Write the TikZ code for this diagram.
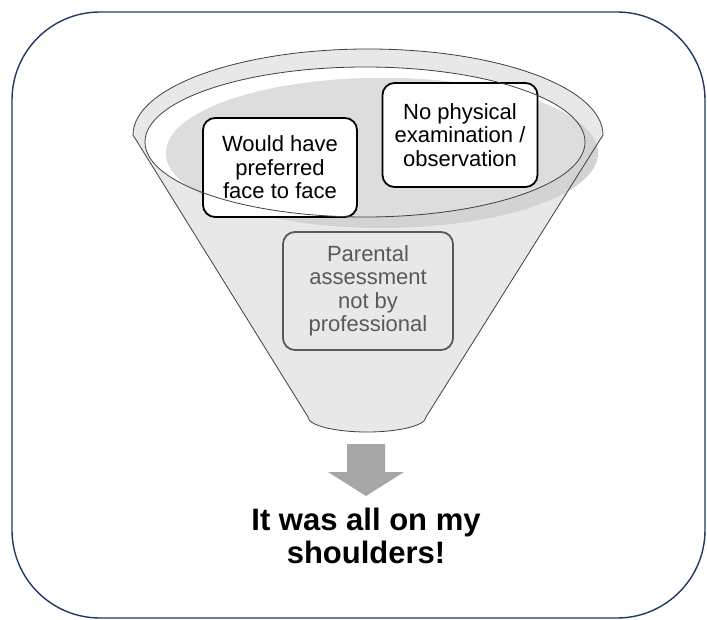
\documentclass[tikz,border=0pt]{standalone}
\usepackage{fontspec}
\setmainfont{Liberation Sans}
\usepackage{xcolor}
\usetikzlibrary{positioning}

\definecolor{framenavy}{HTML}{1F3864}
\definecolor{funnelfill}{HTML}{E8E8E8}
\definecolor{bandgray}{HTML}{D3D3D3}
\definecolor{innergray}{HTML}{DDDDDD}
\definecolor{funnelline}{HTML}{404040}
\definecolor{paragray}{HTML}{595959}
\definecolor{arrowgray}{HTML}{A6A6A6}

\begin{document}
\begin{tikzpicture}[
    x=1pt, y=-1pt,
    card/.style={rectangle, rounded corners=12pt, draw=black, line width=1.8pt, fill=white, align=center, inner sep=0pt, font=\fontsize{22}{23.5}\selectfont},
    ghost/.style={card, draw=paragray, fill=none, text=paragray},
    outline/.style={draw=funnelline, line width=0.8pt},
    shout/.style={align=center, font=\fontsize{31}{33}\selectfont\bfseries}
]
\useasboundingbox (0,0) rectangle (707,620);

% frame
\draw[framenavy, line width=1.4pt, rounded corners=88pt] (12,12) rectangle (705,618);

% funnel body
\fill[funnelfill] (133,135) arc[start angle=180, end angle=0, x radius=235pt, y radius=86pt]
    -- (426,417) arc[start angle=0, end angle=-180, x radius=59pt, y radius=15pt] -- cycle;
\fill[white] (365,142) ellipse[x radius=220pt, y radius=75pt];
\fill[bandgray] (382,153) ellipse[x radius=216pt, y radius=75pt];
\begin{scope}
  \clip (365,142) ellipse[x radius=220pt, y radius=75pt];
  \fill[innergray] (382,153) ellipse[x radius=216pt, y radius=75pt];
\end{scope}
\draw[outline] (133,135) arc[start angle=180, end angle=0, x radius=235pt, y radius=86pt]
    -- (426,417) arc[start angle=0, end angle=-180, x radius=59pt, y radius=15pt] -- cycle;

% boxes
\node[card, minimum width=154pt, minimum height=99pt] (wished) at (280,167.5) {Would have\\preferred\\face to face};
\node[card, minimum width=155pt, minimum height=104pt] (noexam) at (460,135) {No physical\\examination /\\observation};
\node[ghost, minimum width=170pt, minimum height=118pt] (parental) at (368,291) {Parental\\assessment\\not by\\professional};

% rim line over the boxes
\draw[outline] (365,142) ellipse[x radius=220pt, y radius=75pt];

% result
\fill[arrowgray] (347,444) -- (385,444) -- (385,472) -- (404,472) -- (366,496) -- (328,472) -- (347,472) -- cycle;
\node[shout] (shoulders) at (366,536) {It was all on my\\shoulders!};
\end{tikzpicture}
\end{document}
